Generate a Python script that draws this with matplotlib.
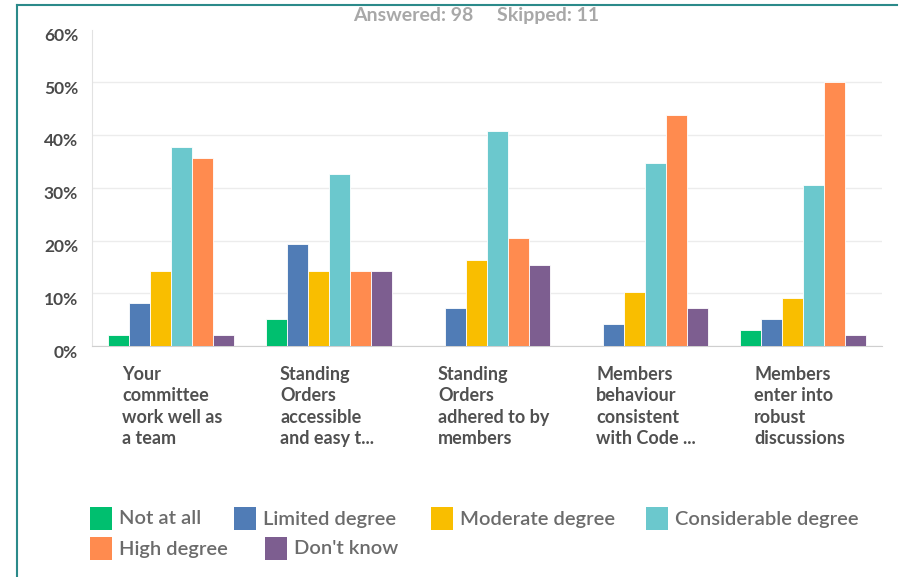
import matplotlib.pyplot as plt
from matplotlib.patches import Rectangle
from matplotlib.lines import Line2D
from matplotlib.transforms import ScaledTranslation
import numpy as np

plt.rcParams['font.family'] = ['Lato', 'DejaVu Sans']

categories = ["Your\ncommittee\nwork well as\na team",
              "Standing\nOrders\naccessible\nand easy t...",
              "Standing\nOrders\nadhered to by\nmembers",
              "Members\nbehaviour\nconsistent\nwith Code ...",
              "Members\nenter into\nrobust\ndiscussions"]
series = ["Not at all", "Limited degree", "Moderate degree",
          "Considerable degree", "High degree", "Don't know"]
colors = ["#00BF6F", "#507CB6", "#F9BE00", "#6BC8CD", "#FF8B4F", "#7D5E90"]

not_at_all = [2.04, 5.10, 0.0, 0.0, 3.06]
limited = [8.16, 19.39, 7.14, 4.08, 5.10]
moderate = [14.29, 14.29, 16.33, 10.20, 9.18]
considerable = [37.76, 32.65, 40.82, 34.69, 30.61]
high = [35.71, 14.29, 20.41, 43.88, 50.00]
dont_know = [2.04, 14.29, 15.31, 7.14, 2.04]
values = [not_at_all, limited, moderate, considerable, high, dont_know]

yticks = [0, 10, 20, 30, 40, 50, 60]

fig = plt.figure(figsize=(9, 5.77), dpi=100)
ax = fig.add_axes([92/900, 1-346/577, 790/900, (346-29.5)/577])

x = np.arange(len(categories))
w = 0.132
for i, (vals, c) in enumerate(zip(values, colors)):
    ax.bar(x + (i - 2.5)*w, vals, w, color=c, edgecolor="white", linewidth=0.6, zorder=3)

ax.set_xlim(-0.5, 4.5)
ax.set_ylim(0, 60)
ax.set_yticks(yticks)
ax.set_yticklabels([f"{v}%" for v in yticks], fontsize=12.5, fontweight="bold", color="#4a4a4a")
ax.tick_params(axis="y", length=0, pad=10)
ax.set_xticks([])
for lab in ax.get_yticklabels():
    lab.set_transform(lab.get_transform() + ScaledTranslation(0, -5/100, fig.dpi_scale_trans))
ax.grid(axis="y", color="#ececec", linewidth=1, zorder=0)
ax.get_ygridlines()[-1].set_visible(False)
for s in ["top", "right"]:
    ax.spines[s].set_visible(False)
ax.spines["left"].set_color("#e2e2e2")
ax.spines["bottom"].set_color("#cfcfcf")

for xi, cat in zip(x, categories):
    ax.text(xi - 0.31, -0.062, cat, transform=ax.get_xaxis_transform(), ha="left", va="top",
            fontsize=13, fontweight="bold", color="#505050", linespacing=1.32)

fig.text(476/900, 1-16/577, "Answered: 98     Skipped: 11", ha="center", va="center",
         fontsize=14, fontweight="bold", color="#a8a8a8")

# legend, laid out like the source (flowing rows)
leg_pos = [(90, 519), (234, 519), (431, 519), (646, 519), (90, 549), (265, 549)]
for (lx, ly), name, c in zip(leg_pos, series, colors):
    fig.patches.append(Rectangle((lx/900, 1-(ly+11)/577), 22/900, 23/577, transform=fig.transFigure,
                                 facecolor=c, edgecolor="none"))
    fig.text((lx+29)/900, 1-ly/577, name, ha="left", va="center", fontsize=14.5,
             fontweight="semibold", color="#6b6b6b")

# teal frame
fig.lines.append(Line2D([17/900, 17/900], [0, 1-5/577], transform=fig.transFigure, color="#2b8a8a", linewidth=1.5))
fig.lines.append(Line2D([17/900, 897/900], [1-5/577, 1-5/577], transform=fig.transFigure, color="#2b8a8a", linewidth=1.5))

fig.savefig("out.png", dpi=100)
